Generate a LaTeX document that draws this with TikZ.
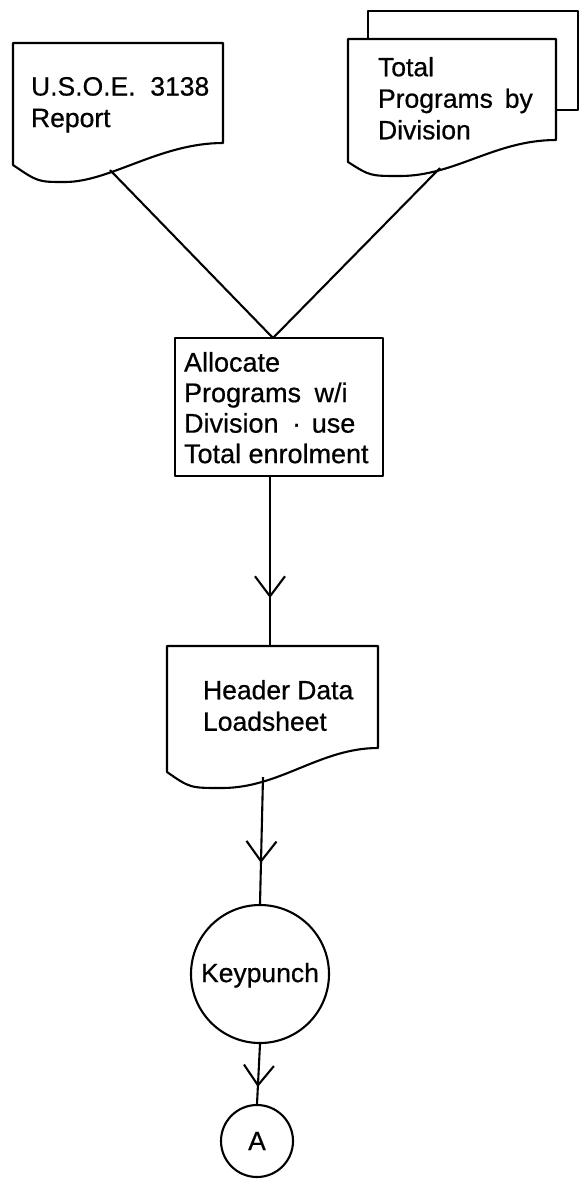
\documentclass[tikz,border=0pt]{standalone}
\usepackage{fontspec}
\setmainfont{Liberation Sans}
\newfontfamily\flowfont[FakeBold=0.6]{Liberation Sans}
\usetikzlibrary{arrows.meta,decorations.markings}
\begin{document}
\begin{tikzpicture}[x=1pt,y=-1pt,line width=2.1pt,line join=round,
  txt/.style={anchor=north west,inner sep=0pt,align=left,font=\flowfont\fontsize{26.5}{31.5}\selectfont},
  procbox/.style={draw,minimum width=208pt,minimum height=138pt,inner sep=0pt},
  bigcirc/.style={draw,circle,inner sep=0pt,font=\flowfont\fontsize{26.5}{31.5}\selectfont},
  midarrow/.style={postaction={decorate},decoration={markings,
    mark=at position #1 with {\arrow{Straight Barb[length=20pt,width=30pt]}}}}]
\useasboundingbox (0,0) rectangle (582,1187);
% left document
\draw (13,43) -- (223,43) -- (223,143) .. controls (160,143) and (110,182) .. (65,182)
      .. controls (38,182) .. (13,165) -- cycle;
\coordinate (usoeout) at (110,170);
\node[txt] (usoe) at (30,76) {U.S.O.E.\ \ 3138\\Report};
% right multi-document
\draw (368,39) -- (368,11) -- (578,11) -- (578,110) -- (556,110);
\draw[fill=white] (348,39) -- (556,39) -- (556,140) .. controls (495,140) and (455,176) .. (400,176)
      .. controls (370,176) .. (348,162) -- cycle;
\coordinate (totout) at (440,168);
\node[txt] (tot) at (377,56) {Total\\Programs\hspace{0.45em}by\\Division};
% process box
\node[procbox] (alloc) at (279,407) {};
\coordinate (allocin) at (273,338);
\node[txt,font=\flowfont\fontsize{27}{30.5}\selectfont] (alloctxt) at (183,351)
  {Allocate\\Programs\hspace{0.5em}w/i\\Division\hspace{0.5em}·\hspace{0.4em}use\\Total enrolment};
\draw (usoeout) -- (allocin);
\draw (totout) -- (allocin);
% header document
\draw (167,646) -- (378,646) -- (378,748) .. controls (320,748) and (280,788) .. (222,788)
      .. controls (190,788) .. (167,772) -- cycle;
\coordinate (hdrin) at (270,646);
\coordinate (hdrout) at (263,777);
\node[txt] (hdr) at (202,679) {Header Data\\Loadsheet};
\draw[midarrow=121pt] (hdrin |- alloc.south) -- (hdrin);
% keypunch
\node[bigcirc,minimum size=138pt,text depth=3pt] (kp) at (260,974) {Keypunch};
\draw[midarrow=86pt] (hdrout) -- (kp.north);
% connector A
\node[bigcirc,minimum size=72pt] (conA) at (257,1141) {A};
\draw[midarrow=43pt] (kp.south) -- (conA.north);
\end{tikzpicture}
\end{document}
